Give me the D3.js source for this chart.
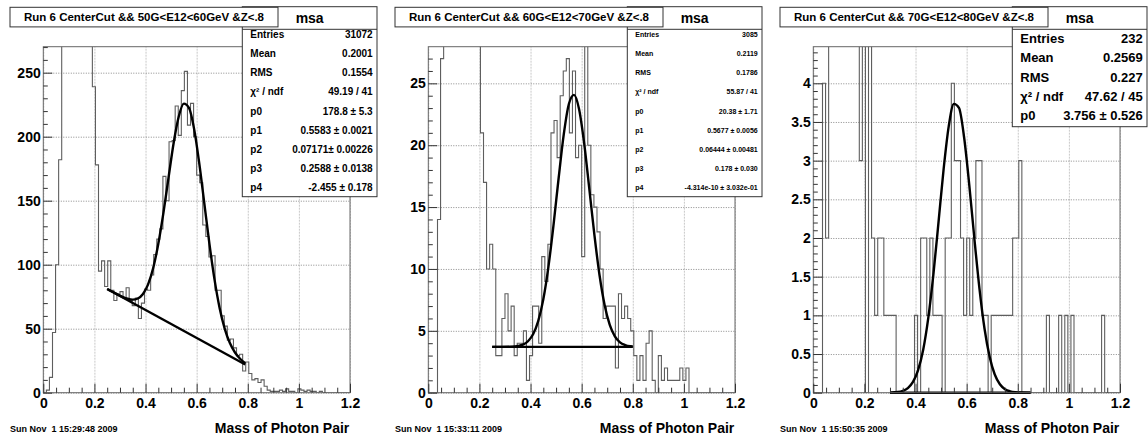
<!DOCTYPE html>
<html>
<head>
<meta charset="utf-8">
<script src="https://cdn.jsdelivr.net/npm/d3@7"></script>
<style>
  body { margin: 0; background: #fff; }
  svg { display: block; font-family: "Liberation Sans", Arial, Helvetica, sans-serif; }
  text { font-weight: bold; fill: #000; }
</style>
</head>
<body>
<svg id="chart" width="1148" height="439"></svg>
<script>
// ---------------- DATA ----------------
const xMin = 0, xMax = 1.2, binWidth = 0.012;
const xTickLabels = [0, 0.2, 0.4, 0.6, 0.8, 1, 1.2];

const titles = [
  "Run 6 CenterCut && 50G<E12<60GeV &Z<.8",
  "Run 6 CenterCut && 60G<E12<70GeV &Z<.8",
  "Run 6 CenterCut && 70G<E12<80GeV &Z<.8"
];
const dates = ["Sun Nov  1 15:29:48 2009", "Sun Nov  1 15:33:11 2009", "Sun Nov  1 15:50:35 2009"];
const xAxisTitle = "Mass of Photon Pair";
const histName = "msa";

// counts per bin (100 bins of 0.012); bins above the frame are clipped
const countsA = [0,2,12,47,100,182,600,1400,2800,4200,4700,4300,3200,2000,1100,600,239,178,
  95,103,83,103,80,72,77,79,74,82,72,68,74,58,70,81,80,92,108,120,128,
  169,150,196,197,224,201,236,251,209,226,200,170,164,131,122,106,107,80,80,60,52,41,42,35,29,30,17,24,
  15,10,11,8,10,5,2,1,1,1,2,1,3,1,1,0,3,2,1,2,1,1,0,1,0,0,0,0,0,0,0,0,0];
const countsB = [0,0,0,14,27,40,78,148,245,372,430,400,312,196,113,66,38,
  21,17,10,12,10,3,3,6,8,5,7,3,4,4,5,1,3,7,7,4,11,9,12,21,22,19,24,26,27,21,26,19,20,11,30,20,
  16,15,13,10,6,7,7,7,2,8,6,7,6,5,3,1,3,1,4,5,1,0,3,1,2,1,1,1,1,2,1,2,
  0,0,0,0,0,0,0,0,0,0,0,0,0,0,0];
const countsC = [0,0,0,4,2,6,10,16,18,21,20,16,13,10,10,
  3,6,0,5,2,1,2,2,1,1,1,1,0,0,0,0,0,0,1,0,2,2,1,2,1,1,1,0,2,2,
  4,3,3,2,1,2,1,2,3,3,1,1,0,1,1,1,1,1,1,1,2,2,3,
  0,0,0,0,0,0,0,0,1,0,0,0,1,0,1,0,1,0,0,0,0,0,0,0,0,0,1,0,0,0,0,0];

// fit curves
const fitXA = [0.25,0.27,0.29,0.31,0.33,0.35,0.37,0.39,0.41,0.43,0.45,0.47,0.49,0.51,0.53,0.55,0.57,0.59,0.61,0.63,0.65,0.67,0.69,0.71,0.73,0.75,0.77,0.79];
const fitYA = [81.0,78.9,76.8,74.9,73.4,72.7,73.6,77.1,84.6,97.4,116.4,140.5,168.0,195.1,215.8,225.8,222.5,206.1,179.5,147.9,116.2,88.3,66.0,49.9,38.8,31.4,26.5,23.0];
const bgXA = [0.25, 0.79], bgYA = [81, 22];

const fitXB = [0.25,0.29,0.33,0.35,0.37,0.39,0.41,0.43,0.45,0.47,0.49,0.51,0.53,0.55,0.57,0.59,0.61,0.63,0.65,0.67,0.69,0.71,0.73,0.75,0.77,0.79,0.80];
const fitYB = [3.70,3.70,3.72,3.77,3.88,4.16,4.72,5.78,7.55,10.17,13.57,17.35,20.87,23.33,24.07,22.90,20.12,16.47,12.73,9.49,7.07,5.48,4.55,4.07,3.85,3.75,3.73];
const bgXB = [0.25, 0.80], bgYB = [3.7, 3.7];

const fitXC = [0.30,0.33,0.35,0.37,0.39,0.41,0.43,0.45,0.47,0.49,0.51,0.53,0.55,0.57,0.59,0.61,0.63,0.65,0.67,0.69,0.71,0.73,0.75,0.77,0.79,0.81,0.85];
const fitYC = [0.0015,0.0084,0.024,0.060,0.139,0.291,0.556,0.970,1.533,2.207,2.893,3.446,3.734,3.682,3.302,2.694,2.000,1.350,0.827,0.463,0.235,0.109,0.046,0.018,0.006,0.002,0];
const bgXC = [0.30, 0.85], bgYC = [0, 0];

const yTicksA = [0, 50, 100, 150, 200, 250];
const yTicksB = [0, 5, 10, 15, 20, 25];
const yTicksC = [0, 0.5, 1, 1.5, 2, 2.5, 3, 3.5, 4];

const statLabels = ["Entries", "Mean", "RMS", "\u03C7\u00B2 / ndf", "p0", "p1", "p2", "p3", "p4"];
const statsA = ["31072", "0.2001", "0.1554", "49.19 / 41", "178.8 \u00B1 5.3", "0.5583 \u00B1 0.0021", "0.07171\u00B1 0.00226", "0.2588 \u00B1 0.0138", "-2.455 \u00B1 0.178"];
const statsB = ["3085", "0.2119", "0.1786", "55.87 / 41", "20.38 \u00B1 1.71", "0.5677 \u00B1 0.0056", "0.06444 \u00B1 0.00481", "0.178 \u00B1 0.030", "-4.314e-10 \u00B1 3.032e-01"];
const statsC = ["232", "0.2569", "0.227", "47.62 / 45", "3.756 \u00B1 0.526"];

// ---------------- LAYOUT ----------------
const panels = [
  { dx: 0,   counts: countsA, yMax: 270.3, yTicks: yTicksA, yMinor: 10,  fitX: fitXA, fitY: fitYA, bgX: bgXA, bgY: bgYA, stats: statsA, sFont: 10, sBottom: 196.7, rowStart: 34.3, rowStep: 19.2 },
  { dx: 385, counts: countsB, yMax: 27.96, yTicks: yTicksB, yMinor: 1,   fitX: fitXB, fitY: fitYB, bgX: bgXB, bgY: bgYB, stats: statsB, sFont: 7,  sBottom: 196.7, rowStart: 34.3, rowStep: 19.2 },
  { dx: 770, counts: countsC, yMax: 4.473, yTicks: yTicksC, yMinor: 0.1, fitX: fitXC, fitY: fitYC, bgX: bgXC, bgY: bgYC, stats: statsC, sFont: 13, sBottom: 126.7, rowStart: 38.6, rowStep: 19.2 }
];
const F = { l: 43.3, r: 350, t: 46.7, b: 392.7 };

const svg = d3.select("#chart");
svg.append("rect").attr("width", 1148).attr("height", 439).attr("fill", "#fff");

panels.forEach((p, pi) => {
  const g = svg.append("g").attr("transform", `translate(${p.dx},0)`);
  const x = d3.scaleLinear().domain([xMin, xMax]).range([F.l, F.r]);
  const y = d3.scaleLinear().domain([0, p.yMax]).range([F.b, F.t]);
  const w = F.r - F.l, h = F.b - F.t;

  // grid
  const gx = g.append("g").attr("transform", `translate(0,${F.b})`)
    .call(d3.axisBottom(x).tickValues(xTickLabels).tickSize(-h).tickFormat(""));
  const gy = g.append("g").attr("transform", `translate(${F.l},0)`)
    .call(d3.axisLeft(y).tickValues(p.yTicks).tickSize(-w).tickFormat(""));
  gx.select(".domain").remove();
  gy.select(".domain").remove();
  gx.selectAll("line").attr("stroke", "#c8c8c8").attr("stroke-dasharray", "2,1").attr("stroke-width", 1);
  gy.selectAll("line").attr("stroke", "#8a8a8a").attr("stroke-dasharray", "1,1.5").attr("stroke-width", 1);

  // histogram
  const clipId = "clip" + pi;
  g.append("clipPath").attr("id", clipId).append("rect")
    .attr("x", F.l).attr("y", F.t).attr("width", w).attr("height", h);
  const pts = [{ x: xMin, v: 0 }];
  p.counts.forEach((c, i) => pts.push({ x: xMin + i * binWidth, v: c }));
  pts.push({ x: xMax, v: p.counts[p.counts.length - 1] });
  pts.push({ x: xMax, v: 0 });
  const hline = d3.line().x(d => x(d.x)).y(d => y(d.v)).curve(d3.curveStepAfter);
  g.append("path").attr("d", hline(pts)).attr("fill", "none")
    .attr("stroke", "#5e5e5e").attr("stroke-width", 1.1).attr("clip-path", `url(#${clipId})`);

  // fit curves
  const fline = d3.line().x(d => x(d[0])).y(d => y(d[1])).curve(d3.curveMonotoneX);
  g.append("path").attr("d", fline(p.bgX.map((v, i) => [v, p.bgY[i]])))
    .attr("fill", "none").attr("stroke", "#000").attr("stroke-width", 2.4);
  g.append("path").attr("d", fline(p.fitX.map((v, i) => [v, p.fitY[i]])))
    .attr("fill", "none").attr("stroke", "#000").attr("stroke-width", 2.4);

  // frame
  g.append("rect").attr("x", F.l).attr("y", F.t).attr("width", w).attr("height", h)
    .attr("fill", "none").attr("stroke", "#666").attr("stroke-width", 1);

  // axes: ticks inside the frame
  const xMinorVals = d3.range(0, 1.2001, 0.05).filter(v => !xTickLabels.some(t => Math.abs(t - v) < 1e-6));
  const ax1 = g.append("g").attr("transform", `translate(0,${F.b})`)
    .call(d3.axisBottom(x).tickValues(xMinorVals).tickSize(-5).tickFormat(""));
  const ax2 = g.append("g").attr("transform", `translate(0,${F.b})`)
    .call(d3.axisBottom(x).tickValues(xTickLabels).tickSize(-9).tickPadding(5).tickFormat(d3.format("")));
  const nMinor = Math.floor(p.yMax / p.yMinor + 1e-6);
  const yMinorVals = d3.range(0, nMinor + 1).map(k => k * p.yMinor)
    .filter(v => !p.yTicks.some(t => Math.abs(t - v) < 1e-6));
  const ay1 = g.append("g").attr("transform", `translate(${F.l},0)`)
    .call(d3.axisLeft(y).tickValues(yMinorVals).tickSize(-4.5).tickFormat(""));
  const ay2 = g.append("g").attr("transform", `translate(${F.l},0)`)
    .call(d3.axisLeft(y).tickValues(p.yTicks).tickSize(-9).tickPadding(2.6).tickFormat(d3.format("")));
  [ax1, ax2, ay1, ay2].forEach(a => {
    a.select(".domain").remove();
    a.selectAll("line").attr("stroke", "#333").attr("stroke-width", 1);
    a.selectAll("text").attr("font-size", 14).attr("font-weight", "bold")
      .attr("font-family", "'Liberation Sans', Arial, sans-serif").attr("fill", "#000");
  });

  // axis title and date
  g.append("text").attr("x", F.r - 0.7).attr("y", 432.7).attr("text-anchor", "end")
    .attr("font-size", 14).text(xAxisTitle);
  g.append("text").attr("x", 10).attr("y", 431.8).attr("font-size", 9)
    .style("white-space", "pre").text(dates[pi]);

  // stats box
  const sb = { l: 242.3, r: 377, t: 6.7, hb: 29.3, b: p.sBottom };
  g.append("rect").attr("x", sb.l).attr("y", sb.t).attr("width", sb.r - sb.l).attr("height", sb.b - sb.t)
    .attr("fill", "#fff").attr("stroke", "#333").attr("stroke-width", 1);
  g.append("line").attr("x1", sb.l).attr("x2", sb.r).attr("y1", sb.hb).attr("y2", sb.hb)
    .attr("stroke", "#333").attr("stroke-width", 1);
  g.append("text").attr("x", (sb.l + sb.r) / 2).attr("y", 17.5).attr("text-anchor", "middle")
    .attr("dominant-baseline", "central").attr("font-size", 14).text(histName);
  p.stats.forEach((v, i) => {
    const yy = p.rowStart + i * p.rowStep;
    g.append("text").attr("x", 250.3).attr("y", yy).attr("dominant-baseline", "central")
      .attr("font-size", p.sFont).text(statLabels[i]);
    g.append("text").attr("x", 372.7).attr("y", yy).attr("dominant-baseline", "central")
      .attr("text-anchor", "end").attr("font-size", p.sFont).text(v);
  });

  // title box
  g.append("rect").attr("x", 10).attr("y", 7.3).attr("width", 268).attr("height", 19.6)
    .attr("fill", "#fff").attr("stroke", "#333").attr("stroke-width", 1);
  g.append("text").attr("x", 144).attr("y", 17.2).attr("text-anchor", "middle")
    .attr("dominant-baseline", "central").attr("font-size", 11.5).text(titles[pi]);
});
</script>
</body>
</html>
